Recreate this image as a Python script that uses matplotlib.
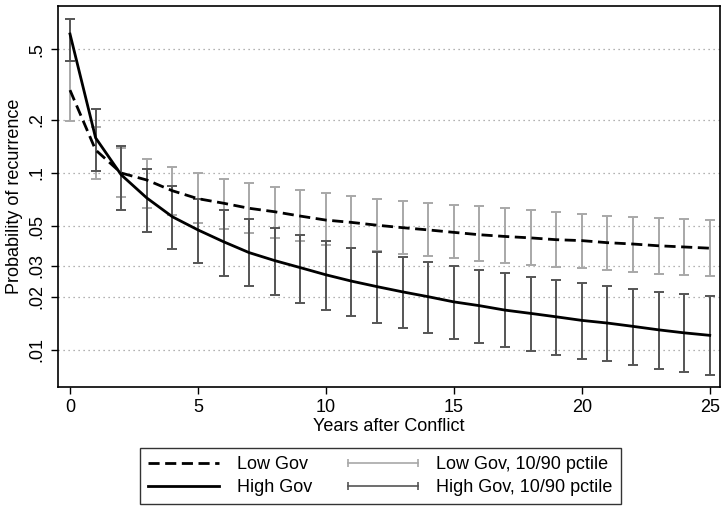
import numpy as np
import matplotlib
matplotlib.use("Agg")
import matplotlib.pyplot as plt
from matplotlib.lines import Line2D
from matplotlib.legend_handler import HandlerLine2D

plt.rcParams['font.family'] = ['Liberation Sans', 'DejaVu Sans']

# years after conflict
years = list(range(26))

# predicted probability, low governance (dashed)
low_gov = [0.294, 0.135, 0.100, 0.0913, 0.0794, 0.0716, 0.0675, 0.0632, 0.0604, 0.0571,
           0.0542, 0.0526, 0.0507, 0.0491, 0.0477, 0.0462, 0.0448, 0.0438, 0.0430, 0.0420,
           0.0415, 0.0404, 0.0397, 0.0388, 0.0382, 0.0376]
low_lo = [0.197, 0.0925, 0.073, 0.0634, 0.058, 0.0524, 0.0484, 0.0456, 0.0430, 0.0413,
          0.0391, 0.0375, 0.0362, 0.0348, 0.0340, 0.0330, 0.0320, 0.0310, 0.0302, 0.0294,
          0.0290, 0.0282, 0.0276, 0.0270, 0.0266, 0.0261]
low_hi = [0.43, 0.183, 0.138, 0.120, 0.1087, 0.0996, 0.0929, 0.0879, 0.0838, 0.0802,
          0.0774, 0.0742, 0.0716, 0.0695, 0.0679, 0.0662, 0.0648, 0.0634, 0.0618, 0.0604,
          0.0586, 0.0574, 0.0564, 0.0557, 0.0550, 0.0542]

# predicted probability, high governance (solid)
high_gov = [0.61, 0.158, 0.0977, 0.0723, 0.0566, 0.0477, 0.0409, 0.0355, 0.0320, 0.0292,
            0.0266, 0.0245, 0.0228, 0.0213, 0.0200, 0.0187, 0.0178, 0.0168, 0.0161, 0.0154,
            0.0147, 0.0142, 0.0136, 0.0130, 0.0125, 0.0121]
high_lo = [0.43, 0.1026, 0.062, 0.0464, 0.0372, 0.0309, 0.0263, 0.0230, 0.0205, 0.0185,
           0.0168, 0.0156, 0.0143, 0.0133, 0.0125, 0.0116, 0.0110, 0.0104, 0.00987, 0.00937,
           0.00893, 0.00863, 0.00823, 0.00784, 0.00755, 0.00723]
high_hi = [0.74, 0.23, 0.142, 0.105, 0.0848, 0.071, 0.0618, 0.055, 0.0491, 0.0445,
           0.0413, 0.0379, 0.0356, 0.0334, 0.0316, 0.0299, 0.0284, 0.0271, 0.0259, 0.0248,
           0.0238, 0.0230, 0.0222, 0.0213, 0.0207, 0.0202]

ytick_vals = [0.01, 0.02, 0.03, 0.05, 0.1, 0.2, 0.5]
ytick_labels = ['.01', '.02', '.03', '.05', '.1', '.2', '.5']
xtick_vals = [0, 5, 10, 15, 20, 25]

LIGHT = '#a8a8a8'
DARK = '#555555'
FS = 13

fig = plt.figure(figsize=(7.22, 5.09), dpi=100)
ax = fig.add_axes([0.0803, 0.2397, 0.9169, 0.7483])

yrs = np.array(years)

def draw_ci(lo, hi, color):
    lo = np.array(lo)
    hi = np.array(hi)
    mid = np.sqrt(lo * hi)
    ax.errorbar(yrs, mid, yerr=[mid - lo, hi - mid], fmt='none', ecolor=color,
                elinewidth=1.4, capsize=3.6, capthick=1.4, zorder=2)

draw_ci(low_lo, low_hi, LIGHT)
draw_ci(high_lo, high_hi, DARK)

ax.plot(years, low_gov, color='black', linestyle=(0, (4, 2)), linewidth=2, zorder=4)
ax.plot(years, high_gov, color='black', linestyle='-', linewidth=2, zorder=4)

ax.set_yscale('log')
ax.set_ylim(0.00618, 0.877)
ax.set_xlim(-0.47, 25.4)
ax.set_yticks(ytick_vals)
ax.set_yticklabels(ytick_labels, rotation=90, va='center')
ax.minorticks_off()
ax.set_xticks(xtick_vals)
ax.tick_params(axis='both', labelsize=FS, length=5, width=1, direction='out',
               colors='black', pad=4)
ax.grid(axis='y', linestyle=(0, (1, 3)), color='#999999', linewidth=0.9)
ax.set_axisbelow(True)

for sp in ax.spines.values():
    sp.set_linewidth(1.2)

ax.set_xlabel('Years after Conflict', fontsize=FS, labelpad=1)
ax.set_ylabel('Probability of recurrence', fontsize=FS, labelpad=4)

ci_low_h = Line2D([], [], color=LIGHT, linewidth=1.2, marker='|', markersize=5.5,
                  markeredgewidth=1.2)
ci_high_h = Line2D([], [], color=DARK, linewidth=1.2, marker='|', markersize=5.5,
                   markeredgewidth=1.2)
handles = [
    Line2D([], [], color='black', linestyle=(0, (4, 2)), linewidth=2),
    Line2D([], [], color='black', linestyle='-', linewidth=2),
    ci_low_h,
    ci_high_h,
]
labels = ['Low Gov', 'High Gov', 'Low Gov, 10/90 pctile', 'High Gov, 10/90 pctile']
leg = fig.legend(handles, labels, ncol=2, loc='upper center', bbox_to_anchor=(0.527, 0.1198),
                 borderaxespad=0, fontsize=FS, frameon=True, fancybox=False, edgecolor='black',
                 handlelength=3.9, handletextpad=1.0, columnspacing=2.0, labelspacing=0.32,
                 borderpad=0.45,
                 handler_map={ci_low_h: HandlerLine2D(marker_pad=0, numpoints=2),
                              ci_high_h: HandlerLine2D(marker_pad=0, numpoints=2)})
leg.get_frame().set_linewidth(1.0)

fig.savefig('out.png', dpi=100)
